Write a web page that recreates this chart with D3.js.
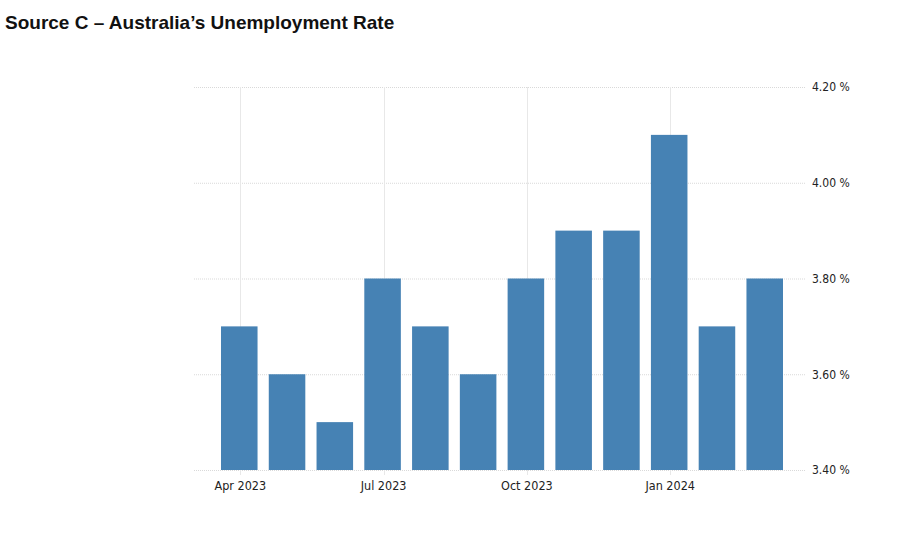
<!DOCTYPE html>
<html>
<head>
<meta charset="utf-8">
<script src="https://cdn.jsdelivr.net/npm/d3@7"></script>
<style>
  body { margin: 0; background: #fff; }
  svg { display: block; }
</style>
</head>
<body>
<div id="chart"></div>
<script>
// Data
const months = ["2023-04","2023-05","2023-06","2023-07","2023-08","2023-09",
                "2023-10","2023-11","2023-12","2024-01","2024-02","2024-03"];
const rates = [3.7, 3.6, 3.5, 3.8, 3.7, 3.6, 3.8, 3.9, 3.9, 4.1, 3.7, 3.8];
const yTicks = [3.4, 3.6, 3.8, 4.0, 4.2];
const xTickMonths = ["2023-04","2023-07","2023-10","2024-01"];
const xTickLabels = ["Apr 2023","Jul 2023","Oct 2023","Jan 2024"];

const W = 901, H = 541;
const plot = { left: 194, right: 805, top: 87, bottom: 470 };

const svg = d3.select('#chart')
    .append('svg')
    .attr('width', W)
    .attr('height', H);

// Title
svg.append('text')
    .attr('x', 5)
    .attr('y', 29)
    .style('font-family', '"Liberation Sans", Arial, sans-serif')
    .style('font-weight', 'bold')
    .style('font-size', '19px')
    .style('fill', '#111')
    .text('Source C \u2013 Australia\u2019s Unemployment Rate');

// Scales
const x = d3.scaleBand()
    .domain(months)
    .range([221, 783])
    .paddingInner(0.235)
    .paddingOuter(0);

const y = d3.scaleLinear()
    .domain([3.4, 4.2])
    .range([plot.bottom, plot.top]);

// Horizontal grid
svg.append('g')
    .selectAll('line')
    .data(yTicks)
    .join('line')
    .attr('x1', plot.left)
    .attr('x2', plot.right)
    .attr('y1', d => y(d) + 0.5)
    .attr('y2', d => y(d) + 0.5)
    .style('stroke', '#d9d9d9')
    .style('stroke-width', 1)
    .style('stroke-dasharray', '1,1');

// Vertical grid at quarter ticks
svg.append('g')
    .selectAll('line')
    .data(xTickMonths)
    .join('line')
    .attr('x1', d => Math.round(x(d) + x.bandwidth() / 2) + 1.5)
    .attr('x2', d => Math.round(x(d) + x.bandwidth() / 2) + 1.5)
    .attr('y1', plot.top)
    .attr('y2', plot.bottom + 5)
    .style('stroke', '#e8e8e8')
    .style('stroke-width', 1);

// Bars
svg.append('g')
    .selectAll('rect')
    .data(months.map((m, i) => ({ m, v: rates[i] })))
    .join('rect')
    .attr('x', d => x(d.m))
    .attr('y', d => y(d.v))
    .attr('width', x.bandwidth())
    .attr('height', d => y(3.4) - y(d.v))
    .style('fill', '#4682b4');

// Y axis labels (right)
const yAxis = d3.axisRight(y)
    .tickValues(yTicks)
    .tickSize(0)
    .tickPadding(0)
    .tickFormat(d => d3.format('.2f')(d) + ' %');
svg.append('g')
    .attr('transform', 'translate(' + (plot.right + 7) + ',0)')
    .call(yAxis)
    .call(g => g.select('.domain').remove())
    .selectAll('text')
    .style('font-family', '"DejaVu Sans Condensed", "DejaVu Sans", sans-serif')
    .style('font-size', '12px')
    .style('fill', '#222');

// X axis labels
const xAxis = d3.axisBottom(x)
    .tickValues(xTickMonths)
    .tickSize(0)
    .tickPadding(11)
    .tickFormat(d => xTickLabels[xTickMonths.indexOf(d)]);
svg.append('g')
    .attr('transform', 'translate(1,' + plot.bottom + ')')
    .call(xAxis)
    .call(g => g.select('.domain').remove())
    .selectAll('text')
    .style('font-family', '"DejaVu Sans Condensed", "DejaVu Sans", sans-serif')
    .style('font-size', '12.5px')
    .style('fill', '#222');
</script>
</body>
</html>
